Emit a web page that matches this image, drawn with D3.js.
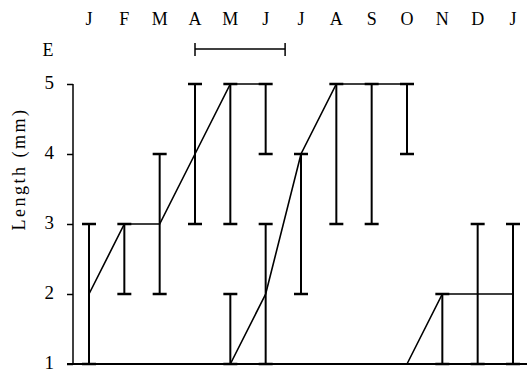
<!DOCTYPE html>
<html>
<head>
<meta charset="utf-8">
<script src="https://cdn.jsdelivr.net/npm/d3@7"></script>
<style>
  body { margin: 0; background: #fff; }
</style>
</head>
<body>
<svg></svg>
<script>
// ---- DATA ----
const monthLabels = ["J", "F", "M", "A", "M", "J", "J", "A", "S", "O", "N", "D", "J"];
const yTicks = [1, 2, 3, 4, 5];

// cohort 1 (Jan - Jun)
const c1Months = [0, 1, 2, 3, 4, 5];
const c1Mean = [2, 3, 3, 4, 5, 5];
const c1Low = [1, 2, 2, 3, 3, 4];
const c1High = [3, 3, 4, 5, 5, 5];

// cohort 2 (May - Oct)
const c2Months = [4, 5, 6, 7, 8, 9];
const c2Mean = [1, 2, 4, 5, 5, 5];
const c2Low = [1, 1, 2, 3, 3, 4];
const c2High = [2, 3, 4, 5, 5, 5];

// cohort 3 (Oct - Jan)
const c3Months = [9, 10, 11, 12];
const c3Mean = [1, 2, 2, 2];
const c3Low = [1, 1, 1, 1];
const c3High = [1, 2, 3, 3];

// period bar "E" (April to mid June)
const periodStart = 3;
const periodEnd = 5.55;

const W = 527, H = 372;
const serif = "'Liberation Serif'";
const svg = d3.select("svg").attr("width", W).attr("height", H);

// ---- SCALES ----
const x = d3.scaleLinear().domain([0, 12]).range([89, 513]);
const y = d3.scaleLinear().domain([1, 5]).range([364, 84]);
const axisX = 73;

// ---- AXES ----
const yAxis = d3.axisLeft(y)
    .tickValues(yTicks)
    .tickFormat(d3.format("d"))
    .tickSize(6)
    .tickPadding(13);

const yAxisG = svg.append("g")
    .attr("transform", `translate(${axisX},0)`)
    .call(yAxis)
    .attr("font-family", serif)
    .attr("font-size", 19);
yAxisG.select(".domain").remove();
yAxisG.selectAll(".tick line").attr("stroke", "#000").attr("stroke-width", 1.5);
yAxisG.selectAll(".tick text").attr("fill", "#000").attr("dy", "0.22em");

svg.append("line")
    .attr("x1", axisX).attr("x2", axisX)
    .attr("y1", y(5)).attr("y2", y(1))
    .attr("stroke", "#000").attr("stroke-width", 1.5);

// baseline
svg.append("line")
    .attr("x1", axisX - 6).attr("x2", W)
    .attr("y1", y(1)).attr("y2", y(1))
    .attr("stroke", "#000").attr("stroke-width", 2);

// month labels
svg.append("g").selectAll("text")
    .data(monthLabels)
    .join("text")
    .attr("x", (d, i) => x(i))
    .attr("y", 25)
    .attr("text-anchor", "middle")
    .attr("font-family", serif)
    .attr("font-size", 18)
    .text(d => d);

// y label
svg.append("text")
    .attr("transform", "translate(25,169) rotate(-90)")
    .attr("text-anchor", "middle")
    .attr("font-family", serif)
    .attr("font-size", 18)
    .attr("letter-spacing", 2.5)
    .text("Length (mm)");

// "E" and period bar
svg.append("text")
    .attr("x", 48).attr("y", 56)
    .attr("text-anchor", "middle")
    .attr("font-family", serif)
    .attr("font-size", 18)
    .text("E");

const pg = svg.append("g").attr("stroke", "#000").attr("stroke-width", 1.5);
pg.append("line")
    .attr("x1", x(periodStart)).attr("x2", x(periodEnd))
    .attr("y1", 49).attr("y2", 49);
[periodStart, periodEnd].forEach(m => {
  pg.append("line")
      .attr("x1", x(m)).attr("x2", x(m))
      .attr("y1", 43).attr("y2", 56);
});

// ---- COHORTS ----
const line = d3.line()
    .x(d => x(d.m))
    .y(d => y(d.mean));

function drawCohort(months, mean, low, high) {
  const pts = months.map((m, i) => ({ m, mean: mean[i], lo: low[i], hi: high[i] }));
  const g = svg.append("g");

  const bars = pts.filter(d => d.hi > d.lo);
  g.selectAll(".bar")
      .data(bars)
      .join("line")
      .attr("x1", d => x(d.m)).attr("x2", d => x(d.m))
      .attr("y1", d => y(d.hi)).attr("y2", d => y(d.lo))
      .attr("stroke", "#000").attr("stroke-width", 2);

  const caps = bars.flatMap(d => [{ m: d.m, v: d.hi }, { m: d.m, v: d.lo }]);
  g.selectAll(".cap")
      .data(caps)
      .join("line")
      .attr("x1", d => x(d.m) - 7).attr("x2", d => x(d.m) + 7)
      .attr("y1", d => y(d.v)).attr("y2", d => y(d.v))
      .attr("stroke", "#000").attr("stroke-width", 2.5);

  g.append("path")
      .datum(pts)
      .attr("fill", "none")
      .attr("stroke", "#000")
      .attr("stroke-width", 1.6)
      .attr("d", line);
}

drawCohort(c1Months, c1Mean, c1Low, c1High);
drawCohort(c2Months, c2Mean, c2Low, c2High);
drawCohort(c3Months, c3Mean, c3Low, c3High);
</script>
</body>
</html>
